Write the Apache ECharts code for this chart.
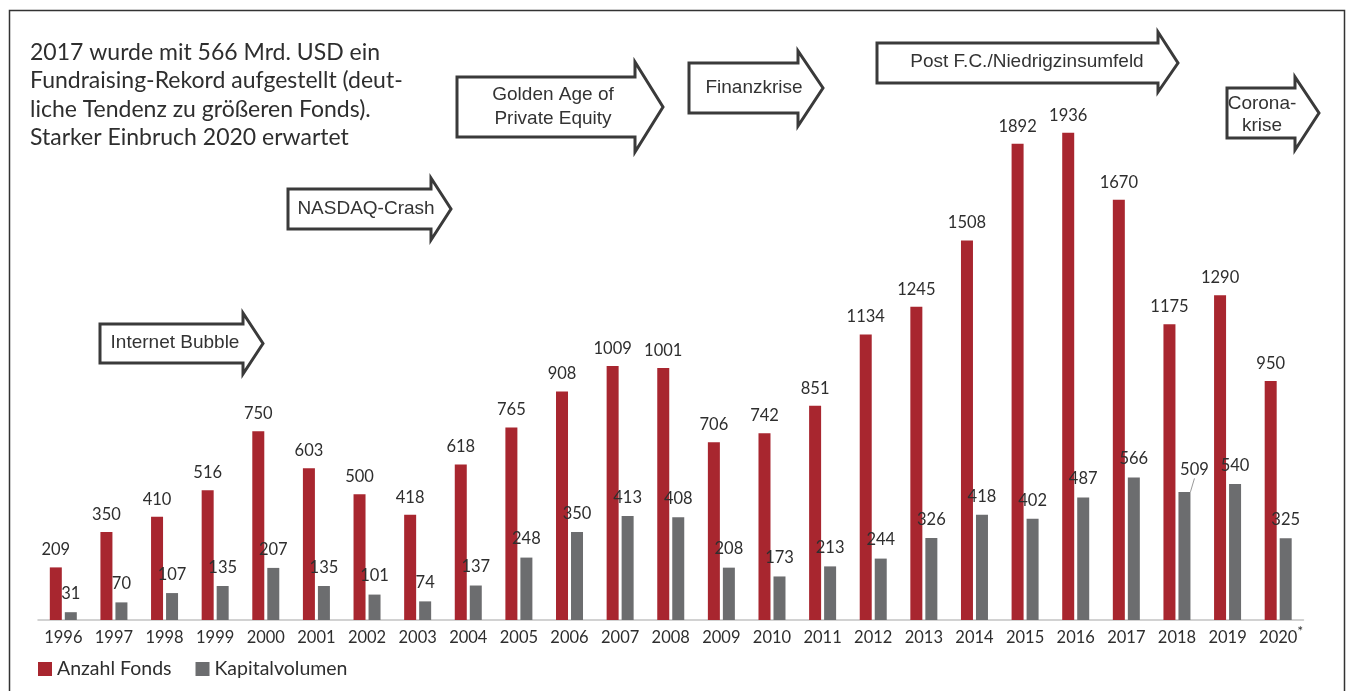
<!DOCTYPE html>
<html>
<head>
<meta charset="utf-8">
<script src="https://cdn.jsdelivr.net/npm/echarts@6/dist/echarts.min.js"></script>
<style>
html,body{margin:0;padding:0;background:#fff;}
#chart{width:1348px;height:691px;}
</style>
</head>
<body>
<div id="chart"></div>
<script>
// ---- data ----
const years = ['1996','1997','1998','1999','2000','2001','2002','2003','2004','2005','2006','2007','2008','2009','2010','2011','2012','2013','2014','2015','2016','2017','2018','2019','2020*'];
const anzahlFonds = [209,350,410,516,750,603,500,418,618,765,908,1009,1001,706,742,851,1134,1245,1508,1892,1936,1670,1175,1290,950];
const kapitalvolumen = [31,70,107,135,207,135,101,74,137,248,350,413,408,208,173,213,244,326,418,402,487,566,509,540,325];
const seriesNames = ['Anzahl Fonds','Kapitalvolumen'];
const titleLines = ['2017 wurde mit 566 Mrd. USD ein','Fundraising-Rekord aufgestellt (deut-','liche Tendenz zu größeren Fonds).','Starker Einbruch 2020 erwartet'];
const phaseLabels = ['Internet Bubble','NASDAQ-Crash','Golden Age of\nPrivate Equity','Finanzkrise','Post F.C./Niedrigzinsumfeld','Corona-\nkrise'];

// ---- styling ----
const RED = '#A8262F';
const GRAY = '#6C6D6F';
const TXT = '#2e2e2e';
const FONT = 'Lato, "Noto Sans", sans-serif';
const ARROW_FONT = '"Liberation Sans", Arial, sans-serif';

// arrow annotation geometry: [bodyLeft, bodyTop, bodyBottom, headBase, headTop, headBottom, tip, textX, textY, lineHeight]
const arrowGeom = [
  [100, 324, 363, 243, 313, 374, 263, 175, 343, 22],
  [288, 189, 229, 431, 178, 240, 451, 366, 209, 22],
  [457, 77, 137, 635, 62, 152, 663, 553, 107, 24],
  [689, 63, 113, 798, 51, 126, 823, 754, 88, 22],
  [877, 43, 83, 1158, 32, 92, 1178, 1027, 62, 22],
  [1227, 88, 138, 1295, 77, 150, 1319, 1262, 115, 22]
];

const graphics = [];
graphics.push({
  type: 'rect', z: 0, silent: true,
  shape: {x: 9.5, y: 10.5, width: 1335, height: 700},
  style: {fill: 'none', stroke: '#333', lineWidth: 1.5}
});
arrowGeom.forEach((g, i) => {
  const [bl, bt, bb, hb, ht, hbo, tip, tx, ty, lh] = g;
  const midY = (bt + bb) / 2;
  graphics.push({
    type: 'polygon', z: 5, silent: true,
    shape: {points: [[bl, bt], [hb, bt], [hb, ht], [tip, midY], [hb, hbo], [hb, bb], [bl, bb]]},
    style: {fill: '#fff', stroke: '#3a3a3a', lineWidth: 3, lineJoin: 'miter'}
  });
  graphics.push({
    type: 'text', z: 6, silent: true,
    x: tx, y: ty,
    style: {
      text: phaseLabels[i], fill: '#333', font: '19px ' + ARROW_FONT,
      align: 'center', verticalAlign: 'middle', lineHeight: lh
    }
  });
});
graphics.push({
  type: 'text', z: 6, silent: true,
  x: 30, y: 38,
  style: {
    text: titleLines.join('\n'), fill: TXT,
    font: '23px ' + FONT, lineHeight: 28.5, verticalAlign: 'top'
  }
});

const chart = echarts.init(document.getElementById('chart'), null, {renderer: 'canvas'});

const grayData = kapitalvolumen.map((v, i) => {
  if (years[i] === '2018') {
    return {value: v, labelLine: {show: true, lineStyle: {color: '#9a9a9a', width: 1}}};
  }
  return v;
});

chart.setOption({
  animation: false,
  backgroundColor: '#fff',
  grid: {left: 38, right: 44.5, top: 16, bottom: 71, containLabel: false},
  legend: {
    left: 38, top: 659, padding: 0,
    itemWidth: 14, itemHeight: 14, itemGap: 24,
    icon: 'rect',
    textStyle: {fontFamily: FONT, fontSize: 19.5, color: TXT, lineHeight: 20},
    data: seriesNames
  },
  xAxis: {
    type: 'category',
    data: years,
    axisLine: {lineStyle: {color: '#c4c4c4', width: 1.5}},
    axisTick: {show: false},
    axisLabel: {
      interval: 0, margin: 6.5,
      fontFamily: FONT, fontSize: 16.5, color: TXT, lineHeight: 22,
      formatter: function (v) {
        if (v.indexOf('*') >= 0) return '{pad|}' + v.replace('*', '') + '{sup|*}';
        return v;
      },
      rich: {
        pad: {width: 6},
        sup: {fontSize: 14, fontFamily: FONT, color: TXT, lineHeight: 10, padding: [0, 0, 12, 0]}
      }
    }
  },
  yAxis: {type: 'value', min: 0, max: 2400, show: false, splitLine: {show: false}},
  graphic: graphics,
  series: [
    {
      name: seriesNames[0], type: 'bar', data: anzahlFonds,
      barWidth: 12, barGap: '25%',
      itemStyle: {color: RED},
      label: {show: true, position: 'top', distance: 9, fontFamily: FONT, fontSize: 16.5, color: TXT}
    },
    {
      name: seriesNames[1], type: 'bar', data: grayData,
      barWidth: 12, barGap: '25%',
      itemStyle: {color: GRAY},
      label: {show: true, position: 'top', distance: 10, offset: [7, 0], fontFamily: FONT, fontSize: 16.5, color: TXT},
      labelLayout: function (p) {
        if (years[p.dataIndex] === '2018') {
          return {
            x: p.rect.x + p.rect.width / 2 + 10,
            y: p.rect.y - 22,
            align: 'center', verticalAlign: 'middle'
          };
        }
        return {};
      }
    }
  ]
});
</script>
</body>
</html>
